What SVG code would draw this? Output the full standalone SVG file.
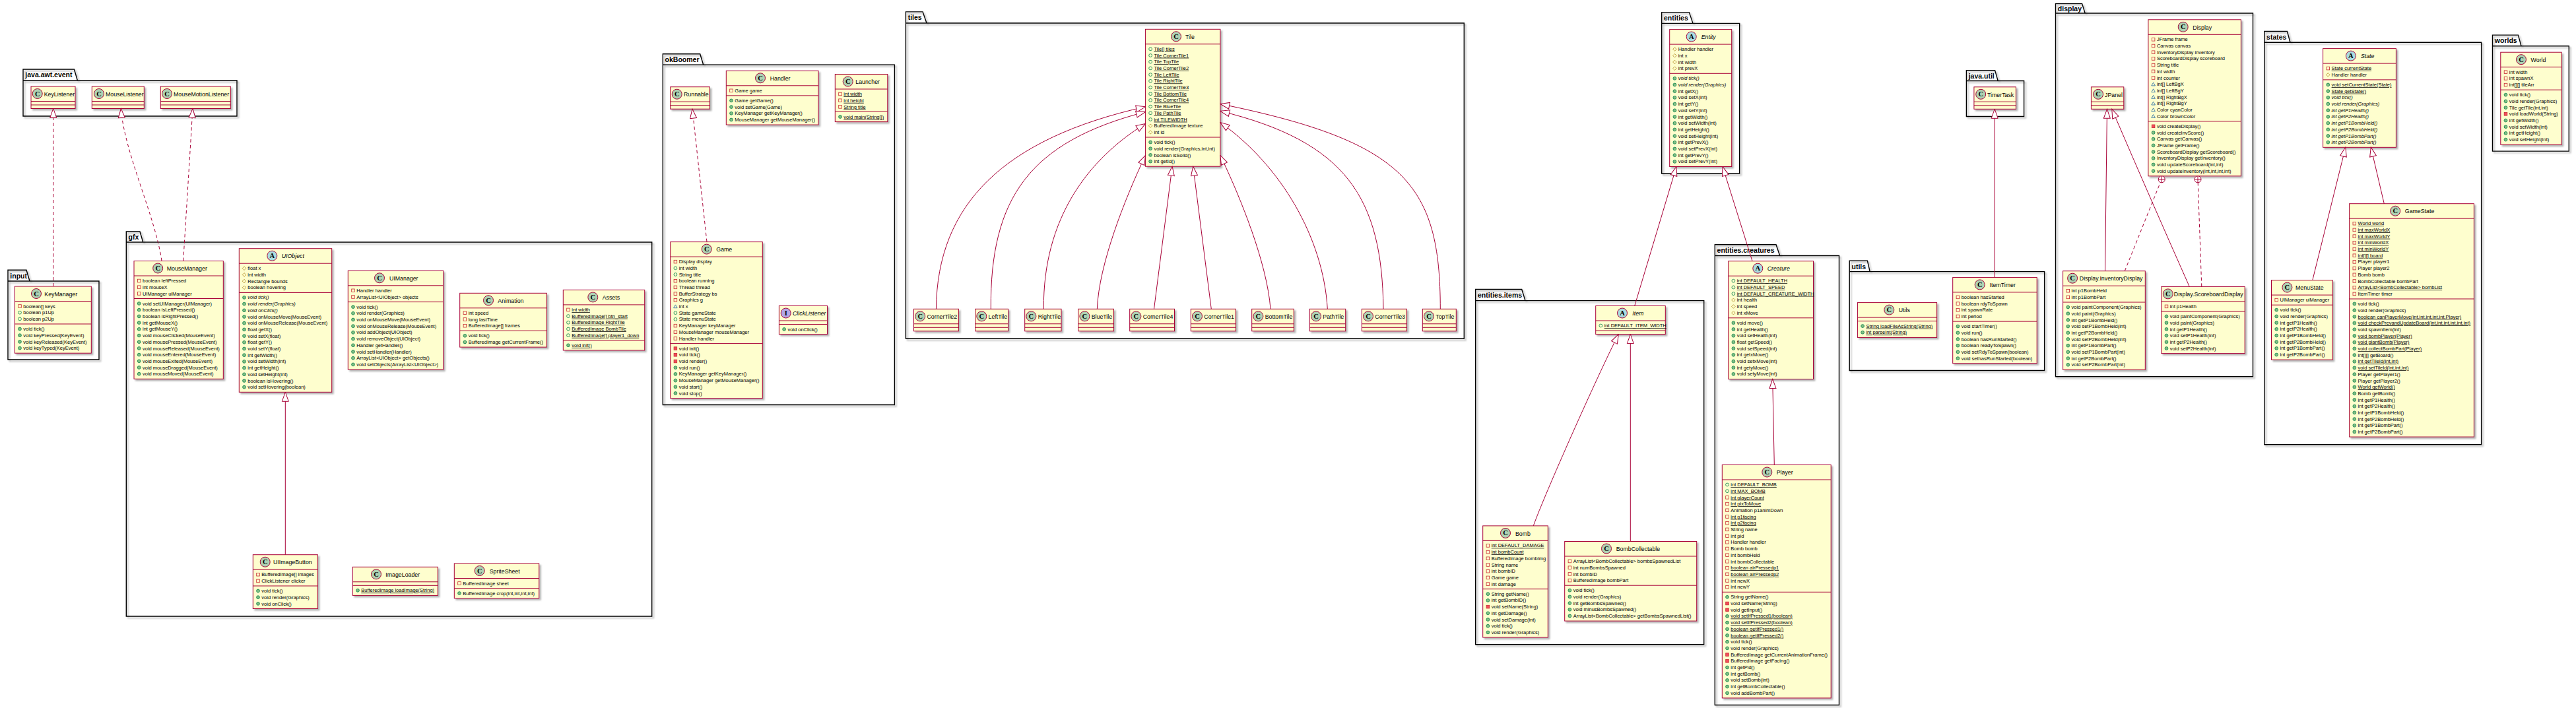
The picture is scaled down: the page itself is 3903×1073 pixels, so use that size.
<svg xmlns="http://www.w3.org/2000/svg" width="3903" height="1073" viewBox="0 0 3903 1073">
<style>
.box{fill:#FEFECE;stroke:#A80036;stroke-width:1;filter:url(#sh)}
.sep{fill:none;stroke:#A80036;stroke-width:1}
.ic{stroke:#A80036;stroke-width:1}
.cC{fill:#ADD1B2}.cA{fill:#A9DCDF}.cI{fill:#B4A7E5}
.il{font-family:"Liberation Serif",serif;font-weight:bold;font-size:10.5px;text-anchor:middle;fill:#000}
.cn{font-family:"Liberation Sans",Arial,sans-serif;font-size:8.8px;fill:#000}
.m{font-family:"Liberation Sans",Arial,sans-serif;font-size:7.5px;fill:#000}
.it{font-style:italic}
.s{text-decoration:underline}
.pk{fill:none;stroke:#000;stroke-width:1.4;filter:url(#sh)}
.pn{font-family:"Liberation Sans",Arial,sans-serif;font-weight:bold;font-size:10.5px;fill:#000}
.e{fill:none;stroke:#A80036;stroke-width:1;marker-end:url(#tri)}
.d{stroke-dasharray:5 4}
.c2{fill:none;stroke:#A80036;stroke-width:1;stroke-dasharray:5 4}
.cp{fill:#fff;stroke:#A80036;stroke-width:1}
</style>
<defs>
<filter id="sh" x="-10%" y="-10%" width="130%" height="135%"><feDropShadow dx="2.5" dy="2.5" stdDeviation="1.2" flood-color="#000" flood-opacity="0.3"/></filter>
<marker id="tri" markerUnits="userSpaceOnUse" markerWidth="16" markerHeight="12" viewBox="-1 -6 16 12" refX="14" refY="0" orient="auto"><path d="M14,0 L0,-5 L0,5 Z" fill="#fff" stroke="#A80036" stroke-width="1"/></marker>
<rect id="pf" x="5.4" y="-2.3" width="4.6" height="4.6" fill="none" stroke="#C82930" stroke-width="0.8"/>
<rect id="pm" x="5.4" y="-2.3" width="4.6" height="4.6" fill="#F24D5C" stroke="#C82930" stroke-width="0.8"/>
<circle id="uf" cx="7.7" cy="0" r="2.4" fill="none" stroke="#038048" stroke-width="0.8"/>
<circle id="um" cx="7.7" cy="0" r="2.4" fill="#84BE84" stroke="#038048" stroke-width="0.8"/>
<polygon id="of" points="7.7,-2.8 10.5,0 7.7,2.8 4.9,0" fill="none" stroke="#B38D22" stroke-width="0.8"/>
<polygon id="kf" points="7.7,-2.6 10.5,2.2 4.9,2.2" fill="none" stroke="#1963A0" stroke-width="0.8"/>
</defs>
<rect width="3903" height="1073" fill="#fff"/>

<g id="packages">
<g id="pkg-java-awt-event"><path class="pk" d="M35,122V105H112.4L117.4,122H359V176H35Z M35,122H117.4"/><text class="pn" x="38.3" y="117.3">java.awt.event</text></g>
<g id="pkg-input"><path class="pk" d="M12,426V409.3H40L45,426H150V545H12Z M12,426H45"/><text class="pn" x="15.3" y="421.6">input</text></g>
<g id="pkg-gfx"><path class="pk" d="M191.3,367V351H212L216.7,367H987.7V934H191.3Z M191.3,367H216.7"/><text class="pn" x="194.6" y="363.3">gfx</text></g>
<g id="pkg-okBoomer"><path class="pk" d="M1004.3,98.3V81.8H1060.7L1065.7,98.3H1355.4V613.5H1004.3Z M1004.3,98.3H1065.7"/><text class="pn" x="1007.6" y="94.1">okBoomer</text></g>
<g id="pkg-tiles"><path class="pk" d="M1372.4,35V17.9H1398.1L1404,35H2218.3V513.3H1372.4Z M1372.4,35H1404"/><text class="pn" x="1375.7" y="30.2">tiles</text></g>
<g id="pkg-entities"><path class="pk" d="M2517.7,35.4V18.6H2559.3L2565,35.4H2635.7V263H2517.7Z M2517.7,35.4H2565"/><text class="pn" x="2521" y="30.9">entities</text></g>
<g id="pkg-entities-items"><path class="pk" d="M2235.7,455.6V438.5H2305.7L2311,455.6H2581.7V976.7H2235.7Z M2235.7,455.6H2311"/><text class="pn" x="2239" y="450.8">entities.items</text></g>
<g id="pkg-entities-creatures"><path class="pk" d="M2598.3,387.5V370.7H2691L2696.7,387.5H2786.5V1068.5H2598.3Z M2598.3,387.5H2696.7"/><text class="pn" x="2601.6" y="383">entities.creatures</text></g>
<g id="pkg-java-util"><path class="pk" d="M2979.4,122.5V106.6H3022.6L3027.2,122.5H3066.6V176.5H2979.4Z M2979.4,122.5H3027.2"/><text class="pn" x="2982.7" y="118.9">java.util</text></g>
<g id="pkg-utils"><path class="pk" d="M2802.2,411.6V395.3H2829.4L2833.2,411.6H3097.6V561.5H2802.2Z M2802.2,411.6H2833.2"/><text class="pn" x="2805.5" y="407.6">utils</text></g>
<g id="pkg-display"><path class="pk" d="M3114.5,20V5.6H3154.6L3159.2,20H3413.5V570.8H3114.5Z M3114.5,20H3159.2"/><text class="pn" x="3117.8" y="17.4">display</text></g>
<g id="pkg-states"><path class="pk" d="M3430.8,64.3V47.5H3465.4L3470,64.3H3759.6V673.7H3430.8Z M3430.8,64.3H3470"/><text class="pn" x="3434.1" y="59.8">states</text></g>
<g id="pkg-worlds"><path class="pk" d="M3776.5,69.8V53.1H3815.4L3820,69.8H3892.3V229.1H3776.5Z M3776.5,69.8H3820"/><text class="pn" x="3779.8" y="65.4">worlds</text></g>
</g>

<g id="classes">
<g id="KeyListener" transform="translate(47,131)"><rect class="box" width="67" height="33.5"/><path class="sep" d="M0 22.5H67M0 28H67"/><circle class="ic cC" cx="9.7" cy="11" r="7.5"/><text class="il" x="9.7" y="14.6">C</text><text class="cn" x="19.7" y="14.8">KeyListener</text></g>
<g id="MouseListener" transform="translate(139.3,131)"><rect class="box" width="79" height="33.5"/><path class="sep" d="M0 22.5H79M0 28H79"/><circle class="ic cC" cx="10.7" cy="11" r="7.5"/><text class="il" x="10.7" y="14.6">C</text><text class="cn" x="20.7" y="14.8">MouseListener</text></g>
<g id="MouseMotionListener" transform="translate(243.3,131)"><rect class="box" width="106" height="33.5"/><path class="sep" d="M0 22.5H106M0 28H106"/><circle class="ic cC" cx="9.7" cy="11" r="7.5"/><text class="il" x="9.7" y="14.6">C</text><text class="cn" x="19.7" y="14.8">MouseMotionListener</text></g>

<g id="KeyManager" transform="translate(22.3,434)"><rect class="box" width="116" height="101.2"/><path class="sep" d="M0 22.5H116M0 57H116"/><circle class="ic cC" cx="32.7" cy="11" r="7.5"/><text class="il" x="32.7" y="14.6">C</text><text class="cn" x="45" y="14.8">KeyManager</text>
<g transform="translate(0,22.5)"><use href="#pf" y="7.5"/><text class="m" x="13" y="10.1">boolean[] keys</text><use href="#uf" y="17.2"/><text class="m" x="13" y="19.8">boolean p1Up</text><use href="#uf" y="26.9"/><text class="m" x="13" y="29.5">boolean p2Up</text></g>
<g transform="translate(0,57)"><use href="#um" y="7.5"/><text class="m" x="13" y="10.1">void tick()</text><use href="#um" y="17.2"/><text class="m" x="13" y="19.8">void keyPressed(KeyEvent)</text><use href="#um" y="26.9"/><text class="m" x="13" y="29.5">void keyReleased(KeyEvent)</text><use href="#um" y="36.6"/><text class="m" x="13" y="39.2">void keyTyped(KeyEvent)</text></g></g>

<g id="MouseManager" transform="translate(203,395.5)"><rect class="box" width="135.3" height="178.8"/><path class="sep" d="M0 22.5H135.3M0 57H135.3"/><circle class="ic cC" cx="36.2" cy="11" r="7.5"/><text class="il" x="36.2" y="14.6">C</text><text class="cn" x="49.7" y="14.8">MouseManager</text>
<g transform="translate(0,22.5)"><use href="#pf" y="7.5"/><text class="m" x="13" y="10.1">boolean leftPressed</text><use href="#pf" y="17.2"/><text class="m" x="13" y="19.8">int mouseX</text><use href="#pf" y="26.9"/><text class="m" x="13" y="29.5">UIManager uiManager</text></g>
<g transform="translate(0,57)"><use href="#um" y="7.5"/><text class="m" x="13" y="10.1">void setUIManager(UIManager)</text><use href="#um" y="17.2"/><text class="m" x="13" y="19.8">boolean isLeftPressed()</text><use href="#um" y="26.9"/><text class="m" x="13" y="29.5">boolean isRightPressed()</text><use href="#um" y="36.6"/><text class="m" x="13" y="39.2">int getMouseX()</text><use href="#um" y="46.3"/><text class="m" x="13" y="48.9">int getMouseY()</text><use href="#um" y="56"/><text class="m" x="13" y="58.6">void mouseClicked(MouseEvent)</text><use href="#um" y="65.7"/><text class="m" x="13" y="68.3">void mousePressed(MouseEvent)</text><use href="#um" y="75.4"/><text class="m" x="13" y="78">void mouseReleased(MouseEvent)</text><use href="#um" y="85.1"/><text class="m" x="13" y="87.7">void mouseEntered(MouseEvent)</text><use href="#um" y="94.8"/><text class="m" x="13" y="97.4">void mouseExited(MouseEvent)</text><use href="#um" y="104.5"/><text class="m" x="13" y="107.1">void mouseDragged(MouseEvent)</text><use href="#um" y="114.2"/><text class="m" x="13" y="116.8">void mouseMoved(MouseEvent)</text></g></g>

<g id="UIObject" transform="translate(362.3,376.7)"><rect class="box" width="140.4" height="217.6"/><path class="sep" d="M0 22.5H140.4M0 66.7H140.4"/><circle class="ic cA" cx="50" cy="11" r="7.5"/><text class="il" x="50" y="14.6">A</text><text class="cn it" x="64.4" y="14.8">UIObject</text>
<g transform="translate(0,22.5)"><use href="#of" y="7.5"/><text class="m" x="13" y="10.1">float x</text><use href="#of" y="17.2"/><text class="m" x="13" y="19.8">int width</text><use href="#of" y="26.9"/><text class="m" x="13" y="29.5">Rectangle bounds</text><use href="#of" y="36.6"/><text class="m" x="13" y="39.2">boolean hovering</text></g>
<g transform="translate(0,66.7)"><use href="#um" y="7.5"/><text class="m it" x="13" y="10.1">void tick()</text><use href="#um" y="17.2"/><text class="m it" x="13" y="19.8">void render(Graphics)</text><use href="#um" y="26.9"/><text class="m it" x="13" y="29.5">void onClick()</text><use href="#um" y="36.6"/><text class="m" x="13" y="39.2">void onMouseMove(MouseEvent)</text><use href="#um" y="46.3"/><text class="m" x="13" y="48.9">void onMouseRelease(MouseEvent)</text><use href="#um" y="56"/><text class="m" x="13" y="58.6">float getX()</text><use href="#um" y="65.7"/><text class="m" x="13" y="68.3">void setX(float)</text><use href="#um" y="75.4"/><text class="m" x="13" y="78">float getY()</text><use href="#um" y="85.1"/><text class="m" x="13" y="87.7">void setY(float)</text><use href="#um" y="94.8"/><text class="m" x="13" y="97.4">int getWidth()</text><use href="#um" y="104.5"/><text class="m" x="13" y="107.1">void setWidth(int)</text><use href="#um" y="114.2"/><text class="m" x="13" y="116.8">int getHeight()</text><use href="#um" y="123.9"/><text class="m" x="13" y="126.5">void setHeight(int)</text><use href="#um" y="133.6"/><text class="m" x="13" y="136.2">boolean isHovering()</text><use href="#um" y="143.3"/><text class="m" x="13" y="145.9">void setHovering(boolean)</text></g></g>

<g id="UIManager" transform="translate(527.3,410.3)"><rect class="box" width="144.4" height="149.7"/><path class="sep" d="M0 22.5H144.4M0 47.3H144.4"/><circle class="ic cC" cx="47.7" cy="11" r="7.5"/><text class="il" x="47.7" y="14.6">C</text><text class="cn" x="62.7" y="14.8">UIManager</text>
<g transform="translate(0,22.5)"><use href="#pf" y="7.5"/><text class="m" x="13" y="10.1">Handler handler</text><use href="#pf" y="17.2"/><text class="m" x="13" y="19.8">ArrayList&lt;UIObject&gt; objects</text></g>
<g transform="translate(0,47.3)"><use href="#um" y="7.5"/><text class="m" x="13" y="10.1">void tick()</text><use href="#um" y="17.2"/><text class="m" x="13" y="19.8">void render(Graphics)</text><use href="#um" y="26.9"/><text class="m" x="13" y="29.5">void onMouseMove(MouseEvent)</text><use href="#um" y="36.6"/><text class="m" x="13" y="39.2">void onMouseRelease(MouseEvent)</text><use href="#um" y="46.3"/><text class="m" x="13" y="48.9">void addObject(UIObject)</text><use href="#um" y="56"/><text class="m" x="13" y="58.6">void removeObject(UIObject)</text><use href="#um" y="65.7"/><text class="m" x="13" y="68.3">Handler getHandler()</text><use href="#um" y="75.4"/><text class="m" x="13" y="78">void setHandler(Handler)</text><use href="#um" y="85.1"/><text class="m" x="13" y="87.7">ArrayList&lt;UIObject&gt; getObjects()</text><use href="#um" y="94.8"/><text class="m" x="13" y="97.4">void setObjects(ArrayList&lt;UIObject&gt;)</text></g></g>

<g id="Animation" transform="translate(696.7,444.3)"><rect class="box" width="131.6" height="81.8"/><path class="sep" d="M0 22.5H131.6M0 57H131.6"/><circle class="ic cC" cx="43.3" cy="11" r="7.5"/><text class="il" x="43.3" y="14.6">C</text><text class="cn" x="57.6" y="14.8">Animation</text>
<g transform="translate(0,22.5)"><use href="#pf" y="7.5"/><text class="m" x="13" y="10.1">int speed</text><use href="#pf" y="17.2"/><text class="m" x="13" y="19.8">long lastTime</text><use href="#pf" y="26.9"/><text class="m" x="13" y="29.5">BufferedImage[] frames</text></g>
<g transform="translate(0,57)"><use href="#um" y="7.5"/><text class="m" x="13" y="10.1">void tick()</text><use href="#um" y="17.2"/><text class="m" x="13" y="19.8">BufferedImage getCurrentFrame()</text></g></g>

<g id="Assets" transform="translate(853.3,439.4)"><rect class="box" width="123.4" height="91.5"/><path class="sep" d="M0 22.5H123.4M0 76.4H123.4"/><circle class="ic cC" cx="45" cy="11" r="7.5"/><text class="il" x="45" y="14.6">C</text><text class="cn" x="59.4" y="14.8">Assets</text>
<g transform="translate(0,22.5)"><use href="#pf" y="7.5"/><text class="m s" x="13" y="10.1">int width</text><use href="#uf" y="17.2"/><text class="m s" x="13" y="19.8">BufferedImage[] btn_start</text><use href="#uf" y="26.9"/><text class="m s" x="13" y="29.5">BufferedImage RightTile</text><use href="#uf" y="36.6"/><text class="m s" x="13" y="39.2">BufferedImage BombTile</text><use href="#uf" y="46.3"/><text class="m s" x="13" y="48.9">BufferedImage[] player1_down</text></g>
<g transform="translate(0,76.4)"><use href="#um" y="7.5"/><text class="m s" x="13" y="10.1">void init()</text></g></g>

<g id="UIImageButton" transform="translate(383.3,840.7)"><rect class="box" width="98" height="81.8"/><path class="sep" d="M0 22.5H98M0 47.3H98"/><circle class="ic cC" cx="18.4" cy="11" r="7.5"/><text class="il" x="18.4" y="14.6">C</text><text class="cn" x="30.7" y="14.8">UIImageButton</text>
<g transform="translate(0,22.5)"><use href="#pf" y="7.5"/><text class="m" x="13" y="10.1">BufferedImage[] images</text><use href="#pf" y="17.2"/><text class="m" x="13" y="19.8">ClickListener clicker</text></g>
<g transform="translate(0,47.3)"><use href="#um" y="7.5"/><text class="m" x="13" y="10.1">void tick()</text><use href="#um" y="17.2"/><text class="m" x="13" y="19.8">void render(Graphics)</text><use href="#um" y="26.9"/><text class="m" x="13" y="29.5">void onClick()</text></g></g>

<g id="ImageLoader" transform="translate(534.3,859.3)"><rect class="box" width="129" height="43.1"/><path class="sep" d="M0 22.5H129M0 28H129"/><circle class="ic cC" cx="35.7" cy="11" r="7.5"/><text class="il" x="35.7" y="14.6">C</text><text class="cn" x="50" y="14.8">ImageLoader</text>
<g transform="translate(0,28)"><use href="#um" y="7.5"/><text class="m s" x="13" y="10.1">BufferedImage loadImage(String)</text></g></g>

<g id="SpriteSheet" transform="translate(688.3,854)"><rect class="box" width="128.4" height="52.7"/><path class="sep" d="M0 22.5H128.4M0 37.6H128.4"/><circle class="ic cC" cx="38.4" cy="11" r="7.5"/><text class="il" x="38.4" y="14.6">C</text><text class="cn" x="53.4" y="14.8">SpriteSheet</text>
<g transform="translate(0,22.5)"><use href="#pf" y="7.5"/><text class="m" x="13" y="10.1">BufferedImage sheet</text></g>
<g transform="translate(0,37.6)"><use href="#um" y="7.5"/><text class="m" x="13" y="10.1">BufferedImage crop(int,int,int,int)</text></g></g>

<g id="Runnable" transform="translate(1015.7,131.7)"><rect class="box" width="59.6" height="33.5"/><path class="sep" d="M0 22.5H59.6M0 28H59.6"/><circle class="ic cC" cx="10" cy="11" r="7.5"/><text class="il" x="10" y="14.6">C</text><text class="cn" x="20.3" y="14.8">Runnable</text></g>

<g id="Handler" transform="translate(1100.3,107.3)"><rect class="box" width="139.7" height="81.8"/><path class="sep" d="M0 22.5H139.7M0 37.6H139.7"/><circle class="ic cC" cx="51.7" cy="11" r="7.5"/><text class="il" x="51.7" y="14.6">C</text><text class="cn" x="66.4" y="14.8">Handler</text>
<g transform="translate(0,22.5)"><use href="#pf" y="7.5"/><text class="m" x="13" y="10.1">Game game</text></g>
<g transform="translate(0,37.6)"><use href="#um" y="7.5"/><text class="m" x="13" y="10.1">Game getGame()</text><use href="#um" y="17.2"/><text class="m" x="13" y="19.8">void setGame(Game)</text><use href="#um" y="26.9"/><text class="m" x="13" y="29.5">KeyManager getKeyManager()</text><use href="#um" y="36.6"/><text class="m" x="13" y="39.2">MouseManager getMouseManager()</text></g></g>

<g id="Launcher" transform="translate(1265.3,112.5)"><rect class="box" width="79.5" height="72.1"/><path class="sep" d="M0 22.5H79.5M0 57H79.5"/><circle class="ic cC" cx="19.4" cy="11" r="7.5"/><text class="il" x="19.4" y="14.6">C</text><text class="cn" x="31" y="14.8">Launcher</text>
<g transform="translate(0,22.5)"><use href="#pf" y="7.5"/><text class="m s" x="13" y="10.1">int width</text><use href="#pf" y="17.2"/><text class="m s" x="13" y="19.8">int height</text><use href="#pf" y="26.9"/><text class="m s" x="13" y="29.5">String title</text></g>
<g transform="translate(0,57)"><use href="#um" y="7.5"/><text class="m s" x="13" y="10.1">void main(String[])</text></g></g>

<g id="Game" transform="translate(1015.7,366.6)"><rect class="box" width="139.6" height="237"/><path class="sep" d="M0 22.5H139.6M0 154H139.6"/><circle class="ic cC" cx="55" cy="11" r="7.5"/><text class="il" x="55" y="14.6">C</text><text class="cn" x="69.6" y="14.8">Game</text>
<g transform="translate(0,22.5)"><use href="#pf" y="7.5"/><text class="m" x="13" y="10.1">Display display</text><use href="#uf" y="17.2"/><text class="m" x="13" y="19.8">int width</text><use href="#uf" y="26.9"/><text class="m" x="13" y="29.5">String title</text><use href="#pf" y="36.6"/><text class="m" x="13" y="39.2">boolean running</text><use href="#pf" y="46.3"/><text class="m" x="13" y="48.9">Thread thread</text><use href="#pf" y="56"/><text class="m" x="13" y="58.6">BufferStrategy bs</text><use href="#pf" y="65.7"/><text class="m" x="13" y="68.3">Graphics g</text><use href="#kf" y="75.4"/><text class="m" x="13" y="78">int x</text><use href="#uf" y="85.1"/><text class="m" x="13" y="87.7">State gameState</text><use href="#uf" y="94.8"/><text class="m" x="13" y="97.4">State menuState</text><use href="#pf" y="104.5"/><text class="m" x="13" y="107.1">KeyManager keyManager</text><use href="#pf" y="114.2"/><text class="m" x="13" y="116.8">MouseManager mouseManager</text><use href="#pf" y="123.9"/><text class="m" x="13" y="126.5">Handler handler</text></g>
<g transform="translate(0,154)"><use href="#pm" y="7.5"/><text class="m" x="13" y="10.1">void init()</text><use href="#pm" y="17.2"/><text class="m" x="13" y="19.8">void tick()</text><use href="#pm" y="26.9"/><text class="m" x="13" y="29.5">void render()</text><use href="#um" y="36.6"/><text class="m" x="13" y="39.2">void run()</text><use href="#um" y="46.3"/><text class="m" x="13" y="48.9">KeyManager getKeyManager()</text><use href="#um" y="56"/><text class="m" x="13" y="58.6">MouseManager getMouseManager()</text><use href="#um" y="65.7"/><text class="m" x="13" y="68.3">void start()</text><use href="#um" y="75.4"/><text class="m" x="13" y="78">void stop()</text></g></g>

<g id="ClickListener" transform="translate(1180.4,463.5)"><rect class="box" width="73.1" height="43.1"/><path class="sep" d="M0 22.5H73.1M0 28H73.1"/><circle class="ic cI" cx="10.3" cy="11" r="7.5"/><text class="il" x="10.3" y="14.6">I</text><text class="cn it" x="20.6" y="14.8">ClickListener</text>
<g transform="translate(0,28)"><use href="#um" y="7.5"/><text class="m" x="13" y="10.1">void onClick()</text></g></g>

<g id="Tile" transform="translate(1735.4,44.3)"><rect class="box" width="113.5" height="207.9"/><path class="sep" d="M0 22.5H113.5M0 163.7H113.5"/><circle class="ic cC" cx="46.6" cy="11" r="7.5"/><text class="il" x="46.6" y="14.6">C</text><text class="cn" x="60.6" y="14.8">Tile</text>
<g transform="translate(0,22.5)"><use href="#uf" y="7.5"/><text class="m s" x="13" y="10.1">Tile[] tiles</text><use href="#uf" y="17.2"/><text class="m s" x="13" y="19.8">Tile CornerTile1</text><use href="#uf" y="26.9"/><text class="m s" x="13" y="29.5">Tile TopTile</text><use href="#uf" y="36.6"/><text class="m s" x="13" y="39.2">Tile CornerTile2</text><use href="#uf" y="46.3"/><text class="m s" x="13" y="48.9">Tile LeftTile</text><use href="#uf" y="56"/><text class="m s" x="13" y="58.6">Tile RightTile</text><use href="#uf" y="65.7"/><text class="m s" x="13" y="68.3">Tile CornerTile3</text><use href="#uf" y="75.4"/><text class="m s" x="13" y="78">Tile BottomTile</text><use href="#uf" y="85.1"/><text class="m s" x="13" y="87.7">Tile CornerTile4</text><use href="#uf" y="94.8"/><text class="m s" x="13" y="97.4">Tile BlueTile</text><use href="#uf" y="104.5"/><text class="m s" x="13" y="107.1">Tile PathTile</text><use href="#uf" y="114.2"/><text class="m s" x="13" y="116.8">int TILEWIDTH</text><use href="#of" y="123.9"/><text class="m" x="13" y="126.5">BufferedImage texture</text><use href="#of" y="133.6"/><text class="m" x="13" y="136.2">int id</text></g>
<g transform="translate(0,163.7)"><use href="#um" y="7.5"/><text class="m" x="13" y="10.1">void tick()</text><use href="#um" y="17.2"/><text class="m" x="13" y="19.8">void render(Graphics,int,int)</text><use href="#um" y="26.9"/><text class="m" x="13" y="29.5">boolean isSolid()</text><use href="#um" y="36.6"/><text class="m" x="13" y="39.2">int getId()</text></g></g>

<g id="CornerTile2" transform="translate(1384.5,468.3)"><rect class="box" width="67.9" height="33.5"/><path class="sep" d="M0 22.5H67.9M0 28H67.9"/><circle class="ic cC" cx="9.7" cy="11" r="7.5"/><text class="il" x="9.7" y="14.6">C</text><text class="cn" x="20" y="14.8">CornerTile2</text></g>
<g id="LeftTile" transform="translate(1477.6,468.3)"><rect class="box" width="49.9" height="33.5"/><path class="sep" d="M0 22.5H49.9M0 28H49.9"/><circle class="ic cC" cx="9.7" cy="11" r="7.5"/><text class="il" x="9.7" y="14.6">C</text><text class="cn" x="20" y="14.8">LeftTile</text></g>
<g id="RightTile" transform="translate(1552.7,468.3)"><rect class="box" width="55.3" height="33.5"/><path class="sep" d="M0 22.5H55.3M0 28H55.3"/><circle class="ic cC" cx="9.7" cy="11" r="7.5"/><text class="il" x="9.7" y="14.6">C</text><text class="cn" x="20" y="14.8">RightTile</text></g>
<g id="BlueTile" transform="translate(1633.7,468.3)"><rect class="box" width="53.8" height="33.5"/><path class="sep" d="M0 22.5H53.8M0 28H53.8"/><circle class="ic cC" cx="9.7" cy="11" r="7.5"/><text class="il" x="9.7" y="14.6">C</text><text class="cn" x="20" y="14.8">BlueTile</text></g>
<g id="CornerTile4" transform="translate(1711.7,468.3)"><rect class="box" width="67.8" height="33.5"/><path class="sep" d="M0 22.5H67.8M0 28H67.8"/><circle class="ic cC" cx="9.7" cy="11" r="7.5"/><text class="il" x="9.7" y="14.6">C</text><text class="cn" x="20" y="14.8">CornerTile4</text></g>
<g id="CornerTile1" transform="translate(1804.3,468.3)"><rect class="box" width="68" height="33.5"/><path class="sep" d="M0 22.5H68M0 28H68"/><circle class="ic cC" cx="9.7" cy="11" r="7.5"/><text class="il" x="9.7" y="14.6">C</text><text class="cn" x="20" y="14.8">CornerTile1</text></g>
<g id="BottomTile" transform="translate(1896.7,468.3)"><rect class="box" width="63.6" height="33.5"/><path class="sep" d="M0 22.5H63.6M0 28H63.6"/><circle class="ic cC" cx="9.7" cy="11" r="7.5"/><text class="il" x="9.7" y="14.6">C</text><text class="cn" x="20" y="14.8">BottomTile</text></g>
<g id="PathTile" transform="translate(1984.3,468.3)"><rect class="box" width="54.4" height="33.5"/><path class="sep" d="M0 22.5H54.4M0 28H54.4"/><circle class="ic cC" cx="9.7" cy="11" r="7.5"/><text class="il" x="9.7" y="14.6">C</text><text class="cn" x="20" y="14.8">PathTile</text></g>
<g id="CornerTile3" transform="translate(2063.3,468.3)"><rect class="box" width="68" height="33.5"/><path class="sep" d="M0 22.5H68M0 28H68"/><circle class="ic cC" cx="9.7" cy="11" r="7.5"/><text class="il" x="9.7" y="14.6">C</text><text class="cn" x="20" y="14.8">CornerTile3</text></g>
<g id="TopTile" transform="translate(2155.3,468.3)"><rect class="box" width="51" height="33.5"/><path class="sep" d="M0 22.5H51M0 28H51"/><circle class="ic cC" cx="9.7" cy="11" r="7.5"/><text class="il" x="9.7" y="14.6">C</text><text class="cn" x="20" y="14.8">TopTile</text></g>

<g id="Entity" transform="translate(2529.7,44.6)"><rect class="box" width="94" height="207.9"/><path class="sep" d="M0 22.5H94M0 66.7H94"/><circle class="ic cA" cx="33" cy="11" r="7.5"/><text class="il" x="33" y="14.6">A</text><text class="cn it" x="48" y="14.8">Entity</text>
<g transform="translate(0,22.5)"><use href="#of" y="7.5"/><text class="m" x="13" y="10.1">Handler handler</text><use href="#of" y="17.2"/><text class="m" x="13" y="19.8">int x</text><use href="#of" y="26.9"/><text class="m" x="13" y="29.5">int width</text><use href="#of" y="36.6"/><text class="m" x="13" y="39.2">int prevX</text></g>
<g transform="translate(0,66.7)"><use href="#um" y="7.5"/><text class="m it" x="13" y="10.1">void tick()</text><use href="#um" y="17.2"/><text class="m it" x="13" y="19.8">void render(Graphics)</text><use href="#um" y="26.9"/><text class="m" x="13" y="29.5">int getX()</text><use href="#um" y="36.6"/><text class="m" x="13" y="39.2">void setX(int)</text><use href="#um" y="46.3"/><text class="m" x="13" y="48.9">int getY()</text><use href="#um" y="56"/><text class="m" x="13" y="58.6">void setY(int)</text><use href="#um" y="65.7"/><text class="m" x="13" y="68.3">int getWidth()</text><use href="#um" y="75.4"/><text class="m" x="13" y="78">void setWidth(int)</text><use href="#um" y="85.1"/><text class="m" x="13" y="87.7">int getHeight()</text><use href="#um" y="94.8"/><text class="m" x="13" y="97.4">void setHeight(int)</text><use href="#um" y="104.5"/><text class="m" x="13" y="107.1">int getPrevX()</text><use href="#um" y="114.2"/><text class="m" x="13" y="116.8">void setPrevX(int)</text><use href="#um" y="123.9"/><text class="m" x="13" y="126.5">int getPrevY()</text><use href="#um" y="133.6"/><text class="m" x="13" y="136.2">void setPrevY(int)</text></g></g>

<g id="Item" transform="translate(2417.7,463.5)"><rect class="box" width="105.6" height="43.1"/><path class="sep" d="M0 22.5H105.6M0 37.6H105.6"/><circle class="ic cA" cx="40.3" cy="11" r="7.5"/><text class="il" x="40.3" y="14.6">A</text><text class="cn it" x="55.6" y="14.8">Item</text>
<g transform="translate(0,22.5)"><use href="#uf" y="7.5"/><text class="m s" x="13" y="10.1">int DEFAULT_ITEM_WIDTH</text></g></g>

<g id="Bomb" transform="translate(2246.7,796.9)"><rect class="box" width="98.6" height="169.1"/><path class="sep" d="M0 22.5H98.6M0 95.8H98.6"/><circle class="ic cC" cx="34.3" cy="11" r="7.5"/><text class="il" x="34.3" y="14.6">C</text><text class="cn" x="49.3" y="14.8">Bomb</text>
<g transform="translate(0,22.5)"><use href="#pf" y="7.5"/><text class="m s" x="13" y="10.1">int DEFAULT_DAMAGE</text><use href="#pf" y="17.2"/><text class="m s" x="13" y="19.8">int bombCount</text><use href="#pf" y="26.9"/><text class="m" x="13" y="29.5">BufferedImage bombImg</text><use href="#pf" y="36.6"/><text class="m" x="13" y="39.2">String name</text><use href="#pf" y="46.3"/><text class="m" x="13" y="48.9">int bombID</text><use href="#pf" y="56"/><text class="m" x="13" y="58.6">Game game</text><use href="#pf" y="65.7"/><text class="m" x="13" y="68.3">int damage</text></g>
<g transform="translate(0,95.8)"><use href="#um" y="7.5"/><text class="m" x="13" y="10.1">String getName()</text><use href="#um" y="17.2"/><text class="m" x="13" y="19.8">int getBombID()</text><use href="#pm" y="26.9"/><text class="m" x="13" y="29.5">void setName(String)</text><use href="#um" y="36.6"/><text class="m" x="13" y="39.2">int getDamage()</text><use href="#um" y="46.3"/><text class="m" x="13" y="48.9">void setDamage(int)</text><use href="#um" y="56"/><text class="m" x="13" y="58.6">void tick()</text><use href="#um" y="65.7"/><text class="m" x="13" y="68.3">void render(Graphics)</text></g></g>

<g id="BombCollectable" transform="translate(2370.7,820.5)"><rect class="box" width="200" height="120.6"/><path class="sep" d="M0 22.5H200M0 66.7H200"/><circle class="ic cC" cx="63.3" cy="11" r="7.5"/><text class="il" x="63.3" y="14.6">C</text><text class="cn" x="78" y="14.8">BombCollectable</text>
<g transform="translate(0,22.5)"><use href="#pf" y="7.5"/><text class="m" x="13" y="10.1">ArrayList&lt;BombCollectable&gt; bombsSpawnedList</text><use href="#pf" y="17.2"/><text class="m" x="13" y="19.8">int numBombsSpawned</text><use href="#pf" y="26.9"/><text class="m" x="13" y="29.5">int bombID</text><use href="#pf" y="36.6"/><text class="m" x="13" y="39.2">BufferedImage bombPart</text></g>
<g transform="translate(0,66.7)"><use href="#um" y="7.5"/><text class="m" x="13" y="10.1">void tick()</text><use href="#um" y="17.2"/><text class="m" x="13" y="19.8">void render(Graphics)</text><use href="#um" y="26.9"/><text class="m" x="13" y="29.5">int getBombsSpawned()</text><use href="#um" y="36.6"/><text class="m" x="13" y="39.2">void minusBombsSpawned()</text><use href="#um" y="46.3"/><text class="m" x="13" y="48.9">ArrayList&lt;BombCollectable&gt; getBombsSpawnedList()</text></g></g>

<g id="Creature" transform="translate(2618.7,395.7)"><rect class="box" width="128.8" height="178.8"/><path class="sep" d="M0 22.5H128.8M0 86.1H128.8"/><circle class="ic cA" cx="44.6" cy="11" r="7.5"/><text class="il" x="44.6" y="14.6">A</text><text class="cn it" x="59" y="14.8">Creature</text>
<g transform="translate(0,22.5)"><use href="#uf" y="7.5"/><text class="m s" x="13" y="10.1">int DEFAULT_HEALTH</text><use href="#uf" y="17.2"/><text class="m s" x="13" y="19.8">int DEFAULT_SPEED</text><use href="#uf" y="26.9"/><text class="m s" x="13" y="29.5">int DEFAULT_CREATURE_WIDTH</text><use href="#of" y="36.6"/><text class="m" x="13" y="39.2">int health</text><use href="#of" y="46.3"/><text class="m" x="13" y="48.9">int speed</text><use href="#of" y="56"/><text class="m" x="13" y="58.6">int xMove</text></g>
<g transform="translate(0,86.1)"><use href="#um" y="7.5"/><text class="m" x="13" y="10.1">void move()</text><use href="#um" y="17.2"/><text class="m" x="13" y="19.8">int getHealth()</text><use href="#um" y="26.9"/><text class="m" x="13" y="29.5">void setHealth(int)</text><use href="#um" y="36.6"/><text class="m" x="13" y="39.2">float getSpeed()</text><use href="#um" y="46.3"/><text class="m" x="13" y="48.9">void setSpeed(int)</text><use href="#um" y="56"/><text class="m" x="13" y="58.6">int getxMove()</text><use href="#um" y="65.7"/><text class="m" x="13" y="68.3">void setxMove(int)</text><use href="#um" y="75.4"/><text class="m" x="13" y="78">int getyMove()</text><use href="#um" y="85.1"/><text class="m" x="13" y="87.7">void setyMove(int)</text></g></g>

<g id="Player" transform="translate(2609.3,704.5)"><rect class="box" width="164.9" height="353.4"/><path class="sep" d="M0 22.5H164.9M0 192.8H164.9"/><circle class="ic cC" cx="68" cy="11" r="7.5"/><text class="il" x="68" y="14.6">C</text><text class="cn" x="82.4" y="14.8">Player</text>
<g transform="translate(0,22.5)"><use href="#uf" y="7.5"/><text class="m s" x="13" y="10.1">int DEFAULT_BOMB</text><use href="#uf" y="17.2"/><text class="m s" x="13" y="19.8">int MAX_BOMB</text><use href="#pf" y="26.9"/><text class="m s" x="13" y="29.5">int playerCount</text><use href="#pf" y="36.6"/><text class="m s" x="13" y="39.2">int pixToMove</text><use href="#pf" y="46.3"/><text class="m" x="13" y="48.9">Animation p1animDown</text><use href="#pf" y="56"/><text class="m s" x="13" y="58.6">int p1facing</text><use href="#pf" y="65.7"/><text class="m s" x="13" y="68.3">int p2facing</text><use href="#pf" y="75.4"/><text class="m" x="13" y="78">String name</text><use href="#pf" y="85.1"/><text class="m" x="13" y="87.7">int pid</text><use href="#pf" y="94.8"/><text class="m" x="13" y="97.4">Handler handler</text><use href="#pf" y="104.5"/><text class="m" x="13" y="107.1">Bomb bomb</text><use href="#pf" y="114.2"/><text class="m" x="13" y="116.8">int bombHeld</text><use href="#pf" y="123.9"/><text class="m" x="13" y="126.5">int bombCollectable</text><use href="#pf" y="133.6"/><text class="m s" x="13" y="136.2">boolean airPressedp1</text><use href="#pf" y="143.3"/><text class="m s" x="13" y="145.9">boolean airPressedp2</text><use href="#pf" y="153"/><text class="m" x="13" y="155.6">int newX</text><use href="#pf" y="162.7"/><text class="m" x="13" y="165.3">int newY</text></g>
<g transform="translate(0,192.8)"><use href="#um" y="7.5"/><text class="m" x="13" y="10.1">String getName()</text><use href="#pm" y="17.2"/><text class="m" x="13" y="19.8">void setName(String)</text><use href="#pm" y="26.9"/><text class="m" x="13" y="29.5">void getInput()</text><use href="#um" y="36.6"/><text class="m s" x="13" y="39.2">void setIfPressed1(boolean)</text><use href="#um" y="46.3"/><text class="m s" x="13" y="48.9">void setIfPressed2(boolean)</text><use href="#um" y="56"/><text class="m s" x="13" y="58.6">boolean getIfPressed1()</text><use href="#um" y="65.7"/><text class="m s" x="13" y="68.3">boolean getIfPressed2()</text><use href="#um" y="75.4"/><text class="m" x="13" y="78">void tick()</text><use href="#um" y="85.1"/><text class="m" x="13" y="87.7">void render(Graphics)</text><use href="#pm" y="94.8"/><text class="m" x="13" y="97.4">BufferedImage getCurrentAnimationFrame()</text><use href="#pm" y="104.5"/><text class="m" x="13" y="107.1">BufferedImage getFacing()</text><use href="#um" y="114.2"/><text class="m" x="13" y="116.8">int getPid()</text><use href="#um" y="123.9"/><text class="m" x="13" y="126.5">int getBomb()</text><use href="#um" y="133.6"/><text class="m" x="13" y="136.2">void setBomb(int)</text><use href="#um" y="143.3"/><text class="m" x="13" y="145.9">int getBombCollectable()</text><use href="#um" y="153"/><text class="m" x="13" y="155.6">void addBombPart()</text></g></g>

<g id="TimerTask" transform="translate(2990.9,131.8)"><rect class="box" width="63.5" height="33.5"/><path class="sep" d="M0 22.5H63.5M0 28H63.5"/><circle class="ic cC" cx="10.3" cy="11" r="7.5"/><text class="il" x="10.3" y="14.6">C</text><text class="cn" x="20.1" y="14.8">TimerTask</text></g>

<g id="Utils" transform="translate(2814.4,458.6)"><rect class="box" width="120.2" height="52.8"/><path class="sep" d="M0 22.5H120.2M0 28H120.2"/><circle class="ic cC" cx="47.9" cy="11" r="7.5"/><text class="il" x="47.9" y="14.6">C</text><text class="cn" x="62.4" y="14.8">Utils</text>
<g transform="translate(0,28)"><use href="#um" y="7.5"/><text class="m s" x="13" y="10.1">String loadFileAsString(String)</text><use href="#um" y="17.2"/><text class="m s" x="13" y="19.8">int parseInt(String)</text></g></g>

<g id="ItemTimer" transform="translate(2958.7,420.4)"><rect class="box" width="127.5" height="130.3"/><path class="sep" d="M0 22.5H127.5M0 66.7H127.5"/><circle class="ic cC" cx="41" cy="11" r="7.5"/><text class="il" x="41" y="14.6">C</text><text class="cn" x="55.9" y="14.8">ItemTimer</text>
<g transform="translate(0,22.5)"><use href="#pf" y="7.5"/><text class="m" x="13" y="10.1">boolean hasStarted</text><use href="#pf" y="17.2"/><text class="m" x="13" y="19.8">boolean rdyToSpawn</text><use href="#pf" y="26.9"/><text class="m" x="13" y="29.5">int spawnRate</text><use href="#pf" y="36.6"/><text class="m" x="13" y="39.2">int period</text></g>
<g transform="translate(0,66.7)"><use href="#um" y="7.5"/><text class="m" x="13" y="10.1">void startTimer()</text><use href="#um" y="17.2"/><text class="m" x="13" y="19.8">void run()</text><use href="#um" y="26.9"/><text class="m" x="13" y="29.5">boolean hasRunStarted()</text><use href="#um" y="36.6"/><text class="m" x="13" y="39.2">boolean readyToSpawn()</text><use href="#um" y="46.3"/><text class="m" x="13" y="48.9">void setRdyToSpawn(boolean)</text><use href="#um" y="56"/><text class="m" x="13" y="58.6">void sethasRunStarted(boolean)</text></g></g>

<g id="JPanel" transform="translate(3168.4,131.8)"><rect class="box" width="49.4" height="33.5"/><path class="sep" d="M0 22.5H49.4M0 28H49.4"/><circle class="ic cC" cx="10.7" cy="11" r="7.5"/><text class="il" x="10.7" y="14.6">C</text><text class="cn" x="20.6" y="14.8">JPanel</text></g>

<g id="Display" transform="translate(3254.9,29.8)"><rect class="box" width="140.5" height="237"/><path class="sep" d="M0 22.5H140.5M0 154H140.5"/><circle class="ic cC" cx="52.8" cy="11" r="7.5"/><text class="il" x="52.8" y="14.6">C</text><text class="cn" x="67.4" y="14.8">Display</text>
<g transform="translate(0,22.5)"><use href="#pf" y="7.5"/><text class="m" x="13" y="10.1">JFrame frame</text><use href="#pf" y="17.2"/><text class="m" x="13" y="19.8">Canvas canvas</text><use href="#pf" y="26.9"/><text class="m" x="13" y="29.5">InventoryDisplay inventory</text><use href="#pf" y="36.6"/><text class="m" x="13" y="39.2">ScoreboardDisplay scoreboard</text><use href="#pf" y="46.3"/><text class="m" x="13" y="48.9">String title</text><use href="#pf" y="56"/><text class="m" x="13" y="58.6">int width</text><use href="#pf" y="65.7"/><text class="m" x="13" y="68.3">int counter</text><use href="#kf" y="75.4"/><text class="m" x="13" y="78">int[] LeftBgX</text><use href="#kf" y="85.1"/><text class="m" x="13" y="87.7">int[] LeftBgY</text><use href="#kf" y="94.8"/><text class="m" x="13" y="97.4">int[] RightBgX</text><use href="#kf" y="104.5"/><text class="m" x="13" y="107.1">int[] RightBgY</text><use href="#kf" y="114.2"/><text class="m" x="13" y="116.8">Color cyanColor</text><use href="#kf" y="123.9"/><text class="m" x="13" y="126.5">Color brownColor</text></g>
<g transform="translate(0,154)"><use href="#pm" y="7.5"/><text class="m" x="13" y="10.1">void createDisplay()</text><use href="#um" y="17.2"/><text class="m" x="13" y="19.8">void createInvScore()</text><use href="#um" y="26.9"/><text class="m" x="13" y="29.5">Canvas getCanvas()</text><use href="#um" y="36.6"/><text class="m" x="13" y="39.2">JFrame getFrame()</text><use href="#um" y="46.3"/><text class="m" x="13" y="48.9">ScoreboardDisplay getScoreboard()</text><use href="#um" y="56"/><text class="m" x="13" y="58.6">InventoryDisplay getInventory()</text><use href="#um" y="65.7"/><text class="m" x="13" y="68.3">void updateScoreboard(int,int)</text><use href="#um" y="75.4"/><text class="m" x="13" y="78">void updateInventory(int,int,int,int)</text></g></g>

<g id="InventoryDisplay" transform="translate(3125.6,410.7)"><rect class="box" width="124.7" height="149.7"/><path class="sep" d="M0 22.5H124.7M0 47.3H124.7"/><circle class="ic cC" cx="14.5" cy="11" r="7.5"/><text class="il" x="14.5" y="14.6">C</text><text class="cn" x="25.2" y="14.8">Display.InventoryDisplay</text>
<g transform="translate(0,22.5)"><use href="#pf" y="7.5"/><text class="m" x="13" y="10.1">int p1BombHeld</text><use href="#pf" y="17.2"/><text class="m" x="13" y="19.8">int p1BombPart</text></g>
<g transform="translate(0,47.3)"><use href="#um" y="7.5"/><text class="m" x="13" y="10.1">void paintComponent(Graphics)</text><use href="#um" y="17.2"/><text class="m" x="13" y="19.8">void paint(Graphics)</text><use href="#um" y="26.9"/><text class="m" x="13" y="29.5">int getP1BombHeld()</text><use href="#um" y="36.6"/><text class="m" x="13" y="39.2">void setP1BombHeld(int)</text><use href="#um" y="46.3"/><text class="m" x="13" y="48.9">int getP2BombHeld()</text><use href="#um" y="56"/><text class="m" x="13" y="58.6">void setP2BombHeld(int)</text><use href="#um" y="65.7"/><text class="m" x="13" y="68.3">int getP1BombPart()</text><use href="#um" y="75.4"/><text class="m" x="13" y="78">void setP1BombPart(int)</text><use href="#um" y="85.1"/><text class="m" x="13" y="87.7">int getP2BombPart()</text><use href="#um" y="94.8"/><text class="m" x="13" y="97.4">void setP2BombPart(int)</text></g></g>

<g id="ScoreboardDisplay" transform="translate(3274.8,434.4)"><rect class="box" width="126.4" height="101.2"/><path class="sep" d="M0 22.5H126.4M0 37.6H126.4"/><circle class="ic cC" cx="10" cy="11" r="7.5"/><text class="il" x="10" y="14.6">C</text><text class="cn" x="19" y="14.8">Display.ScoreboardDisplay</text>
<g transform="translate(0,22.5)"><use href="#pf" y="7.5"/><text class="m" x="13" y="10.1">int p1Health</text></g>
<g transform="translate(0,37.6)"><use href="#um" y="7.5"/><text class="m" x="13" y="10.1">void paintComponent(Graphics)</text><use href="#um" y="17.2"/><text class="m" x="13" y="19.8">void paint(Graphics)</text><use href="#um" y="26.9"/><text class="m" x="13" y="29.5">int getP1Health()</text><use href="#um" y="36.6"/><text class="m" x="13" y="39.2">void setP1Health(int)</text><use href="#um" y="46.3"/><text class="m" x="13" y="48.9">int getP2Health()</text><use href="#um" y="56"/><text class="m" x="13" y="58.6">void setP2Health(int)</text></g></g>

<g id="State" transform="translate(3519.6,73.6)"><rect class="box" width="110.8" height="149.7"/><path class="sep" d="M0 22.5H110.8M0 47.3H110.8"/><circle class="ic cA" cx="42.3" cy="11" r="7.5"/><text class="il" x="42.3" y="14.6">A</text><text class="cn it" x="57.3" y="14.8">State</text>
<g transform="translate(0,22.5)"><use href="#pf" y="7.5"/><text class="m s" x="13" y="10.1">State currentState</text><use href="#of" y="17.2"/><text class="m" x="13" y="19.8">Handler handler</text></g>
<g transform="translate(0,47.3)"><use href="#um" y="7.5"/><text class="m s" x="13" y="10.1">void setCurrentState(State)</text><use href="#um" y="17.2"/><text class="m s" x="13" y="19.8">State getState()</text><use href="#um" y="26.9"/><text class="m it" x="13" y="29.5">void tick()</text><use href="#um" y="36.6"/><text class="m it" x="13" y="39.2">void render(Graphics)</text><use href="#um" y="46.3"/><text class="m it" x="13" y="48.9">int getP1Health()</text><use href="#um" y="56"/><text class="m it" x="13" y="58.6">int getP2Health()</text><use href="#um" y="65.7"/><text class="m it" x="13" y="68.3">int getP1BombHeld()</text><use href="#um" y="75.4"/><text class="m it" x="13" y="78">int getP2BombHeld()</text><use href="#um" y="85.1"/><text class="m it" x="13" y="87.7">int getP1BombPart()</text><use href="#um" y="94.8"/><text class="m it" x="13" y="97.4">int getP2BombPart()</text></g></g>

<g id="MenuState" transform="translate(3441.5,424.6)"><rect class="box" width="92.7" height="120.6"/><path class="sep" d="M0 22.5H92.7M0 37.6H92.7"/><circle class="ic cC" cx="23.9" cy="11" r="7.5"/><text class="il" x="23.9" y="14.6">C</text><text class="cn" x="36.5" y="14.8">MenuState</text>
<g transform="translate(0,22.5)"><use href="#pf" y="7.5"/><text class="m" x="13" y="10.1">UIManager uiManager</text></g>
<g transform="translate(0,37.6)"><use href="#um" y="7.5"/><text class="m" x="13" y="10.1">void tick()</text><use href="#um" y="17.2"/><text class="m" x="13" y="19.8">void render(Graphics)</text><use href="#um" y="26.9"/><text class="m" x="13" y="29.5">int getP1Health()</text><use href="#um" y="36.6"/><text class="m" x="13" y="39.2">int getP2Health()</text><use href="#um" y="46.3"/><text class="m" x="13" y="48.9">int getP1BombHeld()</text><use href="#um" y="56"/><text class="m" x="13" y="58.6">int getP2BombHeld()</text><use href="#um" y="65.7"/><text class="m" x="13" y="68.3">int getP1BombPart()</text><use href="#um" y="75.4"/><text class="m" x="13" y="78">int getP2BombPart()</text></g></g>

<g id="GameState" transform="translate(3559.6,308.7)"><rect class="box" width="188.8" height="353.4"/><path class="sep" d="M0 22.5H188.8M0 144.3H188.8"/><circle class="ic cC" cx="69.6" cy="11" r="7.5"/><text class="il" x="69.6" y="14.6">C</text><text class="cn" x="84.2" y="14.8">GameState</text>
<g transform="translate(0,22.5)"><use href="#pf" y="7.5"/><text class="m s" x="13" y="10.1">World world</text><use href="#pf" y="17.2"/><text class="m s" x="13" y="19.8">int maxWorldX</text><use href="#pf" y="26.9"/><text class="m s" x="13" y="29.5">int maxWorldY</text><use href="#pf" y="36.6"/><text class="m s" x="13" y="39.2">int minWorldX</text><use href="#pf" y="46.3"/><text class="m s" x="13" y="48.9">int minWorldY</text><use href="#pf" y="56"/><text class="m s" x="13" y="58.6">int[][] board</text><use href="#pf" y="65.7"/><text class="m" x="13" y="68.3">Player player1</text><use href="#pf" y="75.4"/><text class="m" x="13" y="78">Player player2</text><use href="#pf" y="85.1"/><text class="m" x="13" y="87.7">Bomb bomb</text><use href="#pf" y="94.8"/><text class="m" x="13" y="97.4">BombCollectable bombPart</text><use href="#pf" y="104.5"/><text class="m s" x="13" y="107.1">ArrayList&lt;BombCollectable&gt; bombList</text><use href="#pf" y="114.2"/><text class="m" x="13" y="116.8">ItemTimer timer</text></g>
<g transform="translate(0,144.3)"><use href="#um" y="7.5"/><text class="m" x="13" y="10.1">void tick()</text><use href="#um" y="17.2"/><text class="m" x="13" y="19.8">void render(Graphics)</text><use href="#um" y="26.9"/><text class="m s" x="13" y="29.5">boolean canPlayerMove(int,int,int,int,int,Player)</text><use href="#um" y="36.6"/><text class="m s" x="13" y="39.2">void checkPrevandUpdateBoard(int,int,int,int,int,int)</text><use href="#um" y="46.3"/><text class="m" x="13" y="48.9">void spawnItem(int)</text><use href="#um" y="56"/><text class="m s" x="13" y="58.6">void bombPlayer(Player)</text><use href="#um" y="65.7"/><text class="m s" x="13" y="68.3">void plantBomb(Player)</text><use href="#um" y="75.4"/><text class="m s" x="13" y="78">void collectBombPart(Player)</text><use href="#um" y="85.1"/><text class="m" x="13" y="87.7">int[][] getBoard()</text><use href="#um" y="94.8"/><text class="m s" x="13" y="97.4">int getTileId(int,int)</text><use href="#um" y="104.5"/><text class="m s" x="13" y="107.1">void setTileId(int,int,int)</text><use href="#um" y="114.2"/><text class="m" x="13" y="116.8">Player getPlayer1()</text><use href="#um" y="123.9"/><text class="m" x="13" y="126.5">Player getPlayer2()</text><use href="#um" y="133.6"/><text class="m s" x="13" y="136.2">World getWorld()</text><use href="#um" y="143.3"/><text class="m" x="13" y="145.9">Bomb getBomb()</text><use href="#um" y="153"/><text class="m" x="13" y="155.6">int getP1Health()</text><use href="#um" y="162.7"/><text class="m" x="13" y="165.3">int getP2Health()</text><use href="#um" y="172.4"/><text class="m" x="13" y="175">int getP1BombHeld()</text><use href="#um" y="182.1"/><text class="m" x="13" y="184.7">int getP2BombHeld()</text><use href="#um" y="191.8"/><text class="m" x="13" y="194.4">int getP1BombPart()</text><use href="#um" y="201.5"/><text class="m" x="13" y="204.1">int getP2BombPart()</text></g></g>

<g id="World" transform="translate(3788.8,79.2)"><rect class="box" width="92.3" height="140"/><path class="sep" d="M0 22.5H92.3M0 57H92.3"/><circle class="ic cC" cx="31.2" cy="11" r="7.5"/><text class="il" x="31.2" y="14.6">C</text><text class="cn" x="45.8" y="14.8">World</text>
<g transform="translate(0,22.5)"><use href="#pf" y="7.5"/><text class="m" x="13" y="10.1">int width</text><use href="#pf" y="17.2"/><text class="m" x="13" y="19.8">int spawnX</text><use href="#pf" y="26.9"/><text class="m" x="13" y="29.5">int[][] tileArr</text></g>
<g transform="translate(0,57)"><use href="#um" y="7.5"/><text class="m" x="13" y="10.1">void tick()</text><use href="#um" y="17.2"/><text class="m" x="13" y="19.8">void render(Graphics)</text><use href="#um" y="26.9"/><text class="m" x="13" y="29.5">Tile getTile(int,int)</text><use href="#pm" y="36.6"/><text class="m" x="13" y="39.2">void loadWorld(String)</text><use href="#um" y="46.3"/><text class="m" x="13" y="48.9">int getWidth()</text><use href="#um" y="56"/><text class="m" x="13" y="58.6">void setWidth(int)</text><use href="#um" y="65.7"/><text class="m" x="13" y="68.3">int getHeight()</text><use href="#um" y="75.4"/><text class="m" x="13" y="78">void setHeight(int)</text></g></g>
</g>

<g id="connectors">
<path class="e d" d="M80.7,434 L80.7,164.5"/>
<path class="e d" d="M245,395.5 C236,330 188,230 183.3,164.5"/>
<path class="e d" d="M277.7,395.5 L292,164.5"/>
<path class="e" d="M432.3,840.7 L432.3,594.3"/>
<path class="e d" d="M1071,366.6 L1049,165.2"/>
<path class="e" d="M1418.4,468.3 C1420,310 1520,210 1735.4,161.8"/>
<path class="e" d="M1501.3,468.3 C1500,300 1560,215 1735.4,169.6"/>
<path class="e" d="M1581.3,468.3 C1580,330 1650,240 1735.4,187.5"/>
<path class="e" d="M1662.3,468.3 C1665,400 1705,300 1735.4,235.7"/>
<path class="e" d="M1748.5,468.3 L1776.1,252.2"/>
<path class="e" d="M1835.3,468.3 L1807.7,252.2"/>
<path class="e" d="M1925,468.3 C1920,400 1880,300 1848.9,235.5"/>
<path class="e" d="M2011.3,468.3 C2005,360 1940,250 1848.9,185.6"/>
<path class="e" d="M2096,468.3 C2094,300 2040,215 1848.9,168.3"/>
<path class="e" d="M2182.3,468.3 C2182,280 2130,215 1848.9,157.5"/>
<path class="e" d="M2476.7,463.5 L2540,252.5"/>
<path class="e" d="M2655,395.7 L2610,252.5"/>
<path class="e" d="M2323.3,796.9 C2340,750 2420,570 2452.3,506.6"/>
<path class="e" d="M2470.3,820.5 L2470.3,506.6"/>
<path class="e" d="M2688.3,704.5 L2685.7,574.5"/>
<path class="e" d="M3022.2,420.4 L3022.2,165.3"/>
<path class="e" d="M3189.5,410.7 L3192.5,165.3"/>
<path class="e" d="M3317.3,434.4 Q3262,310 3199.8,165.3"/>
<path class="c2" d="M3219.3,410.7 L3273.3,276.4"/>
<circle class="cp" cx="3275.2" cy="271.8" r="5"/><path class="sep" d="M3270.2,271.8H3280.2M3275.2,266.8V276.8"/>
<path class="c2" d="M3335.8,434.4 L3330.2,276.8"/>
<circle class="cp" cx="3330" cy="271.8" r="5"/><path class="sep" d="M3325,271.8H3335M3330,266.8V276.8"/>
<path class="e" d="M3503.8,424.6 L3553.8,223.3"/>
<path class="e" d="M3612.3,308.7 L3592.3,223.3"/>
</g>
</svg>
